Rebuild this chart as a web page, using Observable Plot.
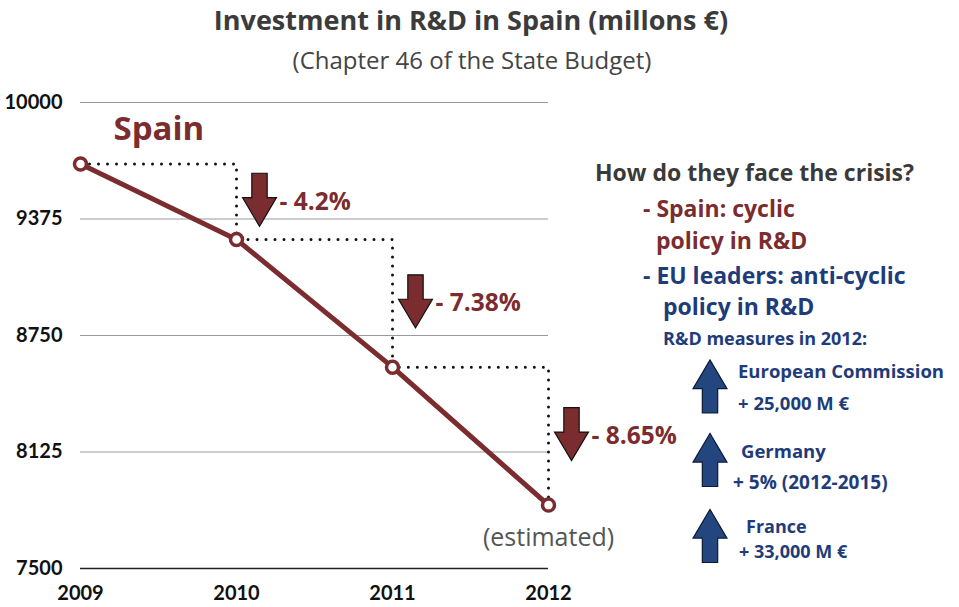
<!DOCTYPE html>
<html>
<head>
<meta charset="utf-8">
<script src="https://cdn.jsdelivr.net/npm/d3@7"></script>
<script src="https://cdn.jsdelivr.net/npm/@observablehq/plot@0.6"></script>
<style>
  html, body { margin: 0; padding: 0; background: #fff; overflow: hidden; }
  #page { position: relative; width: 959px; height: 607px; }
  #header { position: relative; width: 959px; height: 80px; font-family: "Open Sans", sans-serif; }
  #title { position: absolute; left: 0; width: 942px; top: 1px; text-align: center; font-size: 27px; font-weight: 700; color: #3b3b3b; line-height: 38px; }
  #subtitle { position: absolute; left: 0; width: 944px; top: 43px; text-align: center; font-size: 24px; color: #444; line-height: 34px; }
  #panel { position: absolute; left: 0; top: 0; pointer-events: none; }
</style>
</head>
<body>
<div id="page">
  <div id="header">
    <div id="title">Investment in R&amp;D in Spain (millons €)</div>
    <div id="subtitle">(Chapter 46 of the State Budget)</div>
  </div>
  <div id="chart"></div>
  <svg id="panel" width="959" height="607"></svg>
</div>
<script>
// ---- data ----
const years = [2009, 2010, 2011, 2012];
const investment = [9670, 9265, 8580, 7840];
const changes = ["- 4.2%", "- 7.38%", "- 8.65%"];
const yTicks = [7500, 8125, 8750, 9375, 10000];
const seriesLabel = ["Spain"];
const estimatedLabel = "(estimated)";

const maroon = "#7b2c2f";
const blue = "#1f3c7a";

const data = years.map((year, i) => ({year, value: investment[i]}));
const drops = changes.map((label, i) => ({
  year: years[i + 1],
  mid: (investment[i] + investment[i + 1]) / 2,
  label
}));

function blockArrow(dir) {
  return {
    draw(ctx, size) {
      const r = Math.sqrt(size / Math.PI);
      const sw = r * 0.29, hw = r * 0.64, hh = r * 1.08;
      const s = dir; // 1 = down, -1 = up
      ctx.moveTo(-sw, -r * s);
      ctx.lineTo(sw, -r * s);
      ctx.lineTo(sw, (r - hh) * s);
      ctx.lineTo(hw, (r - hh) * s);
      ctx.lineTo(0, r * s);
      ctx.lineTo(-hw, (r - hh) * s);
      ctx.lineTo(-sw, (r - hh) * s);
      ctx.closePath();
    }
  };
}

const chart = Plot.plot({
  width: 959,
  height: 527,
  marginLeft: 80,
  marginRight: 411,
  marginTop: 22,
  marginBottom: 39,
  style: {fontFamily: "Lato, sans-serif", background: "white", overflow: "visible"},
  x: {domain: [2009, 2012], label: null},
  y: {domain: [7500, 10000], label: null},
  marks: [
    Plot.gridY(yTicks.slice(1), {stroke: "#9a9a9a", strokeOpacity: 1, strokeWidth: 1}),
    Plot.ruleY([yTicks[0]], {stroke: "#222", strokeWidth: 1.6}),
    Plot.axisY({ticks: yTicks, tickSize: 0, tickPadding: 18, tickFormat: d => String(d),
      fontSize: 20, fontWeight: "bold", fill: "#111", label: null}),
    Plot.axisX({ticks: years, tickSize: 0, tickPadding: 17, tickFormat: d => String(d),
      fontSize: 20, fontWeight: "bold", fill: "#111", label: null}),
    Plot.line(data, {x: "year", y: "value", curve: "step-after", stroke: "#111",
      strokeWidth: 3, strokeDasharray: "0,9", strokeLinecap: "round"}),
    Plot.line(data, {x: "year", y: "value", stroke: maroon, strokeWidth: 5}),
    Plot.dot(data, {x: "year", y: "value", r: 6, fill: "white", stroke: maroon, strokeWidth: 3.5}),
    Plot.dot(drops, {x: "year", y: "mid", symbol: blockArrow(1), r: 26.5, fill: maroon,
      stroke: "#111", strokeWidth: 1.2, dx: 23, dy: -2}),
    Plot.text(drops, {x: "year", y: "mid", text: "label", dx: 43, textAnchor: "start",
      fill: maroon, fontSize: 24.5, fontWeight: "bold", fontFamily: "Open Sans"}),
    Plot.text(seriesLabel, {frameAnchor: "top-left", dx: 33, dy: 27, lineAnchor: "middle",
      textAnchor: "start", fill: maroon, fontSize: 33, fontWeight: "bold", fontFamily: "Open Sans"}),
    Plot.text(data.slice(-1), {x: "year", y: "value", text: () => estimatedLabel, dy: 33,
      fill: "#555", fontSize: 25, fontFamily: "Open Sans"})
  ]
});
document.getElementById("chart").appendChild(chart);

// ---- right-hand annotation panel ----
const panelLines = [
  {t: "How do they face the crisis?", x: 595, y: 173, c: "#3a3a3a", s: 23},
  {t: "- Spain: cyclic", x: 643, y: 209, c: maroon, s: 23},
  {t: "policy in R&D", x: 656, y: 241, c: maroon, s: 23},
  {t: "- EU leaders: anti-cyclic", x: 643, y: 276, c: blue, s: 23},
  {t: "policy in R&D", x: 663, y: 307, c: blue, s: 23},
  {t: "R&D measures in 2012:", x: 663, y: 339, c: blue, s: 18},
  {t: "European Commission", x: 738, y: 372, c: blue, s: 18.5},
  {t: "+ 25,000 M €", x: 738, y: 404, c: blue, s: 18.5},
  {t: "Germany", x: 741, y: 452, c: blue, s: 18.5},
  {t: "+ 5% (2012-2015)", x: 733, y: 482, c: blue, s: 19},
  {t: "France", x: 746, y: 527, c: blue, s: 18},
  {t: "+ 33,000 M €", x: 739, y: 552, c: blue, s: 18}
];
const panel = d3.select("#panel");
panel.selectAll("text").data(panelLines).join("text")
  .attr("x", d => d.x).attr("y", d => d.y)
  .attr("dy", "0.35em")
  .attr("fill", d => d.c)
  .attr("font-family", "Open Sans, sans-serif")
  .attr("font-weight", 700)
  .attr("font-size", d => d.s)
  .text(d => d.t);

const upArrows = [386.5, 460, 536];
const up = blockArrow(-1);
panel.selectAll("path.up").data(upArrows).join("path")
  .attr("class", "up")
  .attr("transform", d => `translate(710,${d})`)
  .attr("d", () => { const p = d3.path(); up.draw(p, 26.5 * 26.5 * Math.PI); return p.toString(); })
  .attr("fill", "#23467f")
  .attr("stroke", "#0c1a36")
  .attr("stroke-width", 1.2);
</script>
</body>
</html>
